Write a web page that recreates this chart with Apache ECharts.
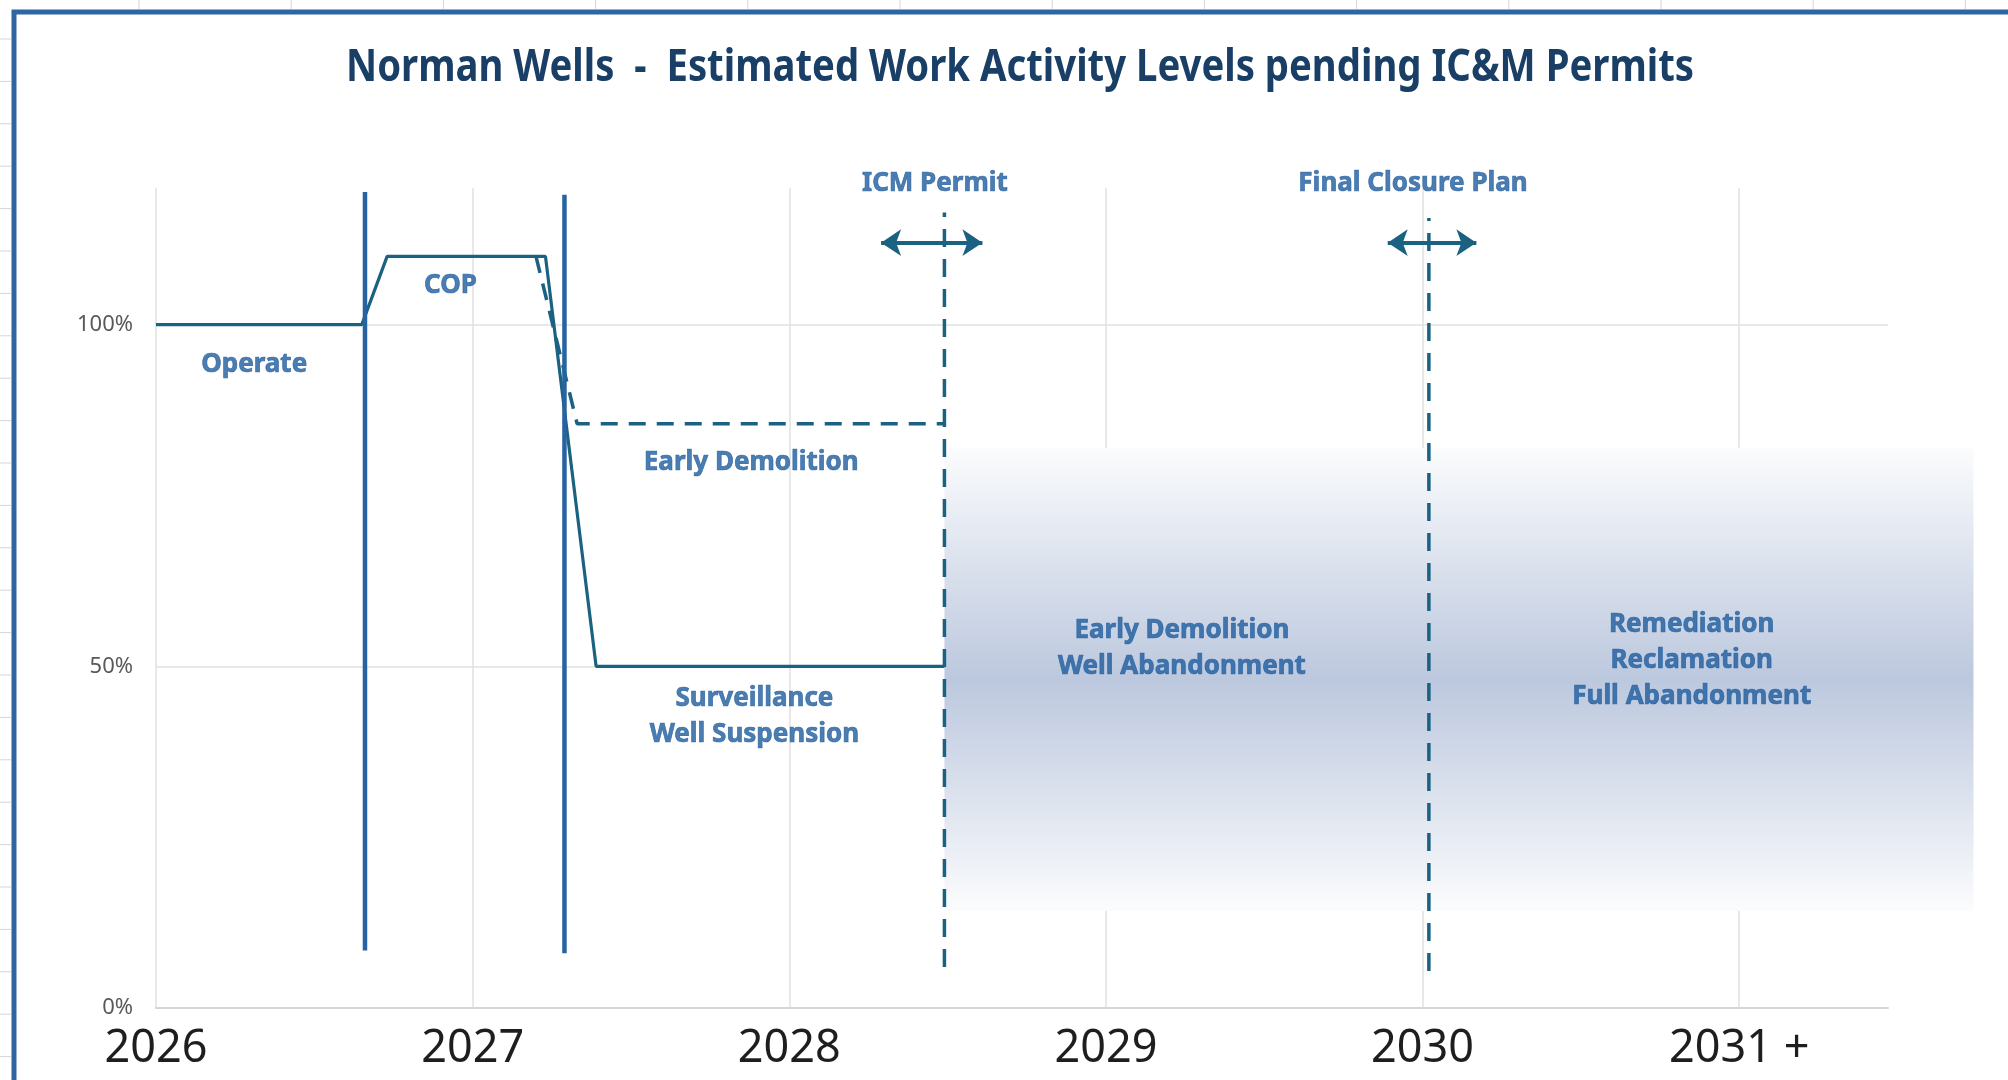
<!DOCTYPE html>
<html>
<head>
<meta charset="utf-8">
<title>Norman Wells - Estimated Work Activity Levels</title>
<script src="https://cdn.jsdelivr.net/npm/echarts@6/dist/echarts.min.js"></script>
<style>
  html, body { margin: 0; padding: 0; background: #ffffff; }
  #chart { width: 2008px; height: 1080px; }
</style>
</head>
<body>
<div id="chart"></div>
<script>
// axis ticks
const years = [2026, 2027, 2028, 2029, 2030, 2031];
const yearLabels = ['2026', '2027', '2028', '2029', '2030', '2031 +'];
const pctTicks = [0, 50, 100];

// activity level (solid): operate -> COP -> surveillance
const activityX = [2026, 2026.65, 2026.73, 2027.23, 2027.39, 2028.49];
const activityY = [100, 100, 110, 110, 50, 50];

// early demolition path (dashed)
const demolitionX = [2027.20, 2027.33, 2028.49];
const demolitionY = [110, 85.5, 85.5];

// phase dividers (solid verticals)
const dividerX = [2026.66, 2027.29];
const dividerBottom = [8.4, 8.0];
const dividerTop = [119.4, 119.0];

// permit milestones (dashed verticals + double arrows)
const milestoneX = [2028.49, 2030.02];
const milestoneBottom = [6.0, 5.4];
const milestoneTop = [116.4, 115.6];
const arrowStart = [2028.29, 2029.89];
const arrowEnd = [2028.61, 2030.17];
const arrowLevel = [112, 112];

// shaded band for the post-permit work
const bandX = [2028.49, 2031.74];
const bandY = [14.2, 82.0];

// annotations
const noteText = [
  'Operate',
  'COP',
  'ICM Permit',
  'Final Closure Plan',
  'Early Demolition',
  'Surveillance\nWell Suspension',
  'Early Demolition\nWell Abandonment',
  'Remediation\nReclamation\nFull Abandonment'
];
const noteX = [2026.31, 2026.93, 2028.46, 2029.97, 2027.88, 2027.89, 2029.24, 2030.85];
const noteY = [94.1, 105.7, 120.6, 120.6, 79.8, 42.6, 52.6, 50.9];

const TEAL = '#1b6182';
const BLUE = '#2763a1';
const TEXT_BLUE = '#1f5d9e';

const chart = echarts.init(document.getElementById('chart'));

// faint spreadsheet cell lines outside the chart frame
const sheetLines = [];
for (let x = 139; x < 2008; x += 152.2) {
  sheetLines.push({ type: 'line', shape: { x1: x, y1: 0, x2: x, y2: 9 }, style: { stroke: '#d6d6d6', lineWidth: 1 } });
}
for (let y = 39; y < 1080; y += 42.4) {
  sheetLines.push({ type: 'line', shape: { x1: 0, y1: y, x2: 11, y2: y }, style: { stroke: '#d6d6d6', lineWidth: 1 } });
}

const series = [];

series.push({
  type: 'custom',
  z: 1,
  clip: false,
  silent: true,
  data: [[bandX[0], bandX[1], bandY[0], bandY[1]]],
  encode: { x: [0, 1], y: [2, 3] },
  renderItem: function (params, api) {
    const topLeft = api.coord([api.value(0), api.value(3)]);
    const bottomRight = api.coord([api.value(1), api.value(2)]);
    return {
      type: 'rect',
      shape: {
        x: topLeft[0],
        y: topLeft[1],
        width: bottomRight[0] - topLeft[0],
        height: bottomRight[1] - topLeft[1]
      },
      style: {
        fill: {
          type: 'linear', x: 0, y: 0, x2: 0, y2: 1,
          colorStops: [
            { offset: 0, color: '#fbfcfd' },
            { offset: 0.5, color: '#bcc8de' },
            { offset: 1, color: '#fbfcfd' }
          ]
        }
      }
    };
  }
});

series.push({
  type: 'line',
  z: 4,
  symbol: 'none',
  data: activityX.map((x, i) => [x, activityY[i]]),
  lineStyle: { color: TEAL, width: 3.2 }
});

series.push({
  type: 'line',
  z: 4,
  symbol: 'none',
  data: demolitionX.map((x, i) => [x, demolitionY[i]]),
  lineStyle: { color: TEAL, width: 3.5, type: [17, 11] }
});

dividerX.forEach((x, i) => {
  series.push({
    type: 'line',
    z: 5,
    symbol: 'none',
    data: [[x, dividerBottom[i]], [x, dividerTop[i]]],
    lineStyle: { color: BLUE, width: 4.5 }
  });
});

milestoneX.forEach((x, i) => {
  series.push({
    type: 'line',
    z: 5,
    symbol: 'none',
    data: [[x, milestoneBottom[i]], [x, milestoneTop[i]]],
    lineStyle: { color: TEAL, width: 3.5, type: [18, 12] }
  });
});

series.push({
  type: 'lines',
  coordinateSystem: 'cartesian2d',
  z: 6,
  symbol: ['arrow', 'arrow'],
  symbolSize: 20,
  data: arrowStart.map((s, i) => ({ coords: [[s, arrowLevel[i]], [arrowEnd[i], arrowLevel[i]]] })),
  lineStyle: { color: TEAL, width: 4, opacity: 1 }
});

series.push({
  type: 'scatter',
  z: 7,
  clip: false,
  symbolSize: 0,
  data: noteText.map((t, i) => ({ name: t, value: [noteX[i], noteY[i]] })),
  label: {
    show: true,
    position: 'inside',
    formatter: p => p.name,
    color: TEXT_BLUE,
    textBorderColor: TEXT_BLUE,
    textBorderWidth: 0.7,
    fontFamily: '"Noto Sans", sans-serif',
    fontWeight: 'bold',
    fontSize: 26,
    lineHeight: 36,
    align: 'center',
    verticalAlign: 'middle'
  }
});

chart.setOption({
  animation: false,
  backgroundColor: '#ffffff',
  grid: { left: 156, right: 120, top: 188, bottom: 72 },
  xAxis: {
    type: 'value',
    min: 2026,
    max: 2031.47,
    interval: 1,
    axisLine: { show: true, lineStyle: { color: '#d6d6d6', width: 2 } },
    axisTick: { show: false },
    splitLine: { show: true, showMinLine: true, showMaxLine: false, lineStyle: { color: '#e0e0e0', width: 1.5 } },
    axisLabel: {
      margin: 19,
      color: '#1e1e1e',
      fontFamily: '"Noto Sans", sans-serif',
      fontSize: 45,
      formatter: v => {
        const k = years.indexOf(Math.round(v * 1000) / 1000);
        return k >= 0 ? yearLabels[k] : '';
      }
    }
  },
  yAxis: {
    type: 'value',
    min: 0,
    max: 120,
    interval: 50,
    axisLine: { show: false },
    axisTick: { show: false },
    splitLine: { show: true, showMaxLine: false, lineStyle: { color: '#e0e0e0', width: 1.5 } },
    axisLabel: {
      margin: 23,
      color: '#595959',
      fontFamily: '"Noto Sans", sans-serif',
      fontSize: 22,
      formatter: v => (pctTicks.indexOf(v) >= 0 ? v + '%' : '')
    }
  },
  graphic: [
    ...sheetLines,
    {
      type: 'polyline',
      shape: { points: [[14, 1080], [14, 12], [2008, 12]] },
      style: { stroke: '#2e65a3', lineWidth: 5, fill: null }
    },
    {
      type: 'text',
      x: 1020,
      y: 68,
      scaleX: 0.87,
      style: {
        text: 'Norman Wells  -  Estimated Work Activity Levels pending IC&M Permits',
        fill: '#1a3f66',
        fontFamily: '"Noto Sans", sans-serif',
        fontWeight: 'bold',
        fontSize: 44,
        textAlign: 'center',
        textVerticalAlign: 'middle'
      }
    }
  ],
  series: series
});
</script>
</body>
</html>
